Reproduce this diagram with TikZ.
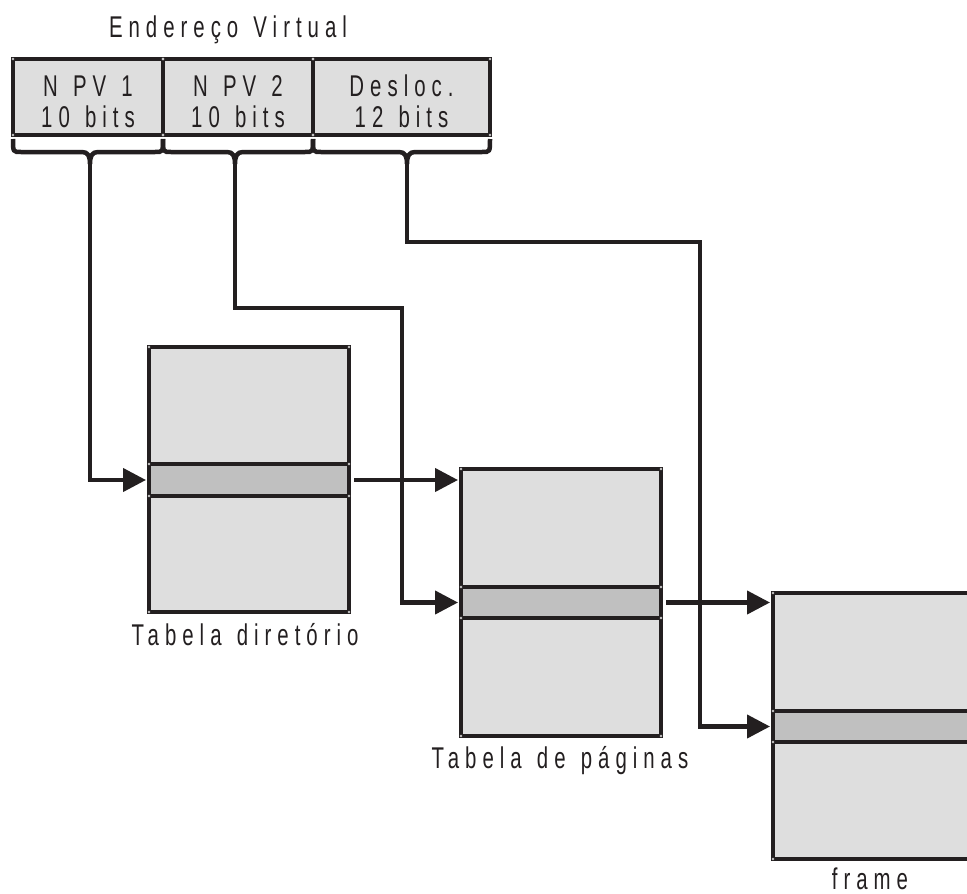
\documentclass[tikz,border=0pt]{standalone}
\usepackage{fontspec}
\newfontfamily\lbl[FakeStretch=0.68,LetterSpace=20,WordSpace=1.3]{Liberation Sans}
\usetikzlibrary{arrows.meta}
\definecolor{ink}{HTML}{231F20}
\definecolor{cellfill}{HTML}{DEDEDE}
\definecolor{rowfill}{HTML}{C0C0C0}
\begin{document}
\begin{tikzpicture}[x=1pt,y=-1pt,
  txt/.style={font=\lbl\fontsize{30}{31}\selectfont,text=ink},
  box/.style={txt,draw=ink,fill=cellfill,line width=4.5pt,rectangle,inner sep=0pt,outer sep=0pt,minimum height=76pt,align=center},
  tab/.style={draw=ink,fill=cellfill,line width=4.5pt,inner sep=0pt,outer sep=0pt},
  rowbox/.style={draw=ink,fill=rowfill,line width=4.5pt,inner sep=0pt,outer sep=0pt},
  conn/.style={draw=ink,line width=4.2pt},
  arr/.style={conn,-{Triangle[length=23pt,width=23pt]},shorten >=3pt},
  lab/.style={txt,inner sep=0pt,anchor=base},
  brace/.style={draw=ink,line width=4.5pt},
  handle/.style={fill=white,draw=gray!60,line width=0.4pt}]
\clip (0,0) rectangle (967,894);
\fill[white] (0,0) rectangle (967,894);
% title
\node[lab] (title) at (228,37) {Endereço Virtual};
% virtual address fields
\node[box,minimum width=150pt] (v1) at (88,97) {\rule{0pt}{31pt}N PV 1\\10 bits};
\node[box,minimum width=150pt] (v2) at (238,97) {\rule{0pt}{31pt}N PV 2\\10 bits};
\node[box,minimum width=177pt] (v3) at (401.5,97) {\rule{0pt}{31pt}Desloc.\\12 bits};
% braces
\draw[brace] (13,139) .. controls (13,152) .. (21,152) -- (82,152)
  .. controls (88,152) and (90,156) .. (90,164)
  .. controls (90,156) and (92,152) .. (98,152) -- (155,152)
  .. controls (163,152) .. (163,139);
\draw[brace] (163,139) .. controls (163,152) .. (171,152) -- (227,152)
  .. controls (233,152) and (235,156) .. (235,164)
  .. controls (235,156) and (237,152) .. (243,152) -- (305,152)
  .. controls (313,152) .. (313,139);
\draw[brace] (313,139) .. controls (313,152) .. (321,152) -- (399,152)
  .. controls (405,152) and (407,156) .. (407,164)
  .. controls (407,156) and (409,152) .. (415,152) -- (482,152)
  .. controls (490,152) .. (490,139);
\coordinate (b1) at (90,162);
\coordinate (b2) at (235,162);
\coordinate (b3) at (407,162);
% tables
\node[tab,minimum width=200pt,minimum height=265pt] (t1) at (249,479.5) {};
\node[rowbox,minimum width=200pt,minimum height=32pt] (r1) at (249,480) {};
\node[tab,minimum width=200pt,minimum height=267pt] (t2) at (561,602.5) {};
\node[rowbox,minimum width=200pt,minimum height=31pt] (r2) at (561,602.5) {};
\node[tab,minimum width=240pt,minimum height=266pt] (t3) at (893,726) {};
\node[rowbox,minimum width=240pt,minimum height=31pt] (r3) at (893,726.5) {};
% labels
\node[lab] (l1) at (245,645) {Tabela diretório};
\node[lab] (l2) at (560,768) {Tabela de páginas};
\node[lab] (l3) at (870,889) {frame};
% connectors
\coordinate (k2) at (402,308);
\coordinate (k3) at (700,242);
\draw[arr] (b1) |- (r1.west);
\draw[arr] (b2) |- (k2) |- (r2.west);
\draw[arr] (b3) |- (k3) |- (r3.west);
\draw[arr] ([xshift=5pt]r1.east) -- (r1.east -| t2.west);
\draw[arr] ([xshift=5pt]r2.east) -- (r2.east -| t3.west);
% corner handles
\foreach \n in {v1,v2,v3,t1,r1,t2,r2,t3,r3}
  \foreach \a in {north west,north east,south west,south east}
    \filldraw[handle] (\n.\a) circle (1.1pt);
\end{tikzpicture}
\end{document}
